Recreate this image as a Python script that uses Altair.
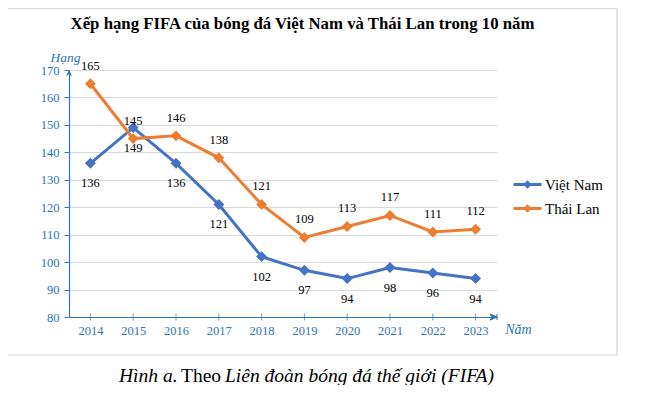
import altair as alt
import pandas as pd

years = [2014, 2015, 2016, 2017, 2018, 2019, 2020, 2021, 2022, 2023]
vietnam = [136, 149, 136, 121, 102, 97, 94, 98, 96, 94]
thailand = [165, 145, 146, 138, 121, 109, 113, 117, 111, 112]
series = ["Việt Nam", "Thái Lan"]
colors = ["#4472C4", "#ED7D31"]
y_ticks = [80, 90, 100, 110, 120, 130, 140, 150, 160, 170]

title_text = "Xếp hạng FIFA của bóng đá Việt Nam và Thái Lan trong 10 năm"
cap1, cap2, cap3 = "Hình a.", "Theo", "Liên đoàn bóng đá thế giới (FIFA)"

rows = []
for name, vals in zip(series, [vietnam, thailand]):
    for yr, v in zip(years, vals):
        rows.append({"year": yr, "country": name, "rank": v})
df = pd.DataFrame(rows)

BLUE = "#2E75B6"
SERIF = "Liberation Serif, Times New Roman, serif"
W, H = 428, 247

xs = alt.Scale(domain=[2013.5, 2023.5], nice=False, zero=False)
ys = alt.Scale(domain=[80, 170], nice=False, zero=False)
cs = alt.Scale(domain=series, range=colors)

x_axis = alt.Axis(
    values=years, format="d", ticks=False, grid=False, labelOverlap=False,
    labelFont=SERIF, labelFontSize=12.5, labelColor=BLUE, labelPadding=7,
    domainColor=BLUE, domainWidth=1.2,
    title="Năm", titleFont=SERIF, titleFontSize=14, titleFontStyle="italic",
    titleFontWeight="normal", titleColor=BLUE, titleX=449, titleY=16,
    titleAlign="center", titleBaseline="alphabetic")
y_axis = alt.Axis(
    values=y_ticks, tickCount=10, grid=True, gridColor="#D9D9D9", gridWidth=1,
    labelOverlap=False, labelBound=False, labelFlush=False,
    tickColor=BLUE, tickSize=5, labelPadding=5,
    labelFont=SERIF, labelFontSize=12.5, labelColor=BLUE,
    domainColor=BLUE, domainWidth=1.2,
    title="Hạng", titleFont=SERIF, titleFontSize=13.5, titleFontStyle="italic",
    titleFontWeight="normal", titleColor=BLUE, titleAngle=0, titleX=-4,
    titleY=-9, titleAlign="center", titleBaseline="alphabetic")

x_enc = alt.X("year:Q", scale=xs, axis=x_axis)
y_enc = alt.Y("rank:Q", scale=ys, axis=y_axis)

legend = alt.Legend(
    title=None, orient="none", legendX=443, legendY=99, padding=0,
    symbolType="M-1,0L1,0M-0.15,0L0,-0.15L0.15,0L0,0.15Z",
    symbolSize=784, symbolStrokeWidth=3, labelOffset=2, rowPadding=-4,
    labelFont=SERIF, labelFontSize=15, labelColor="black", labelBaseline="middle")

base = alt.Chart(df)
lines = base.mark_line(strokeWidth=3).encode(
    x=x_enc, y=y_enc, color=alt.Color("country:N", scale=cs, legend=legend))
points = base.mark_point(shape="diamond", filled=True, size=120, opacity=1).encode(
    x=x_enc, y=y_enc, color=alt.Color("country:N", scale=cs, legend=None))
lab_vn = base.transform_filter(alt.datum.country == series[0]).mark_text(
    font=SERIF, fontSize=12.5, color="black", dy=20).encode(
    x=x_enc, y=y_enc, text="rank:Q")
lab_th = base.transform_filter(alt.datum.country == series[1]).mark_text(
    font=SERIF, fontSize=12.5, color="black", dy=-18).encode(
    x=x_enc, y=y_enc, text="rank:Q")

tick_df = pd.DataFrame({"year": years})
xticks = alt.Chart(tick_df).mark_tick(orient="vertical", size=7, thickness=1, color=BLUE).encode(
    x=x_enc, y=alt.value(H))

one = alt.Data(values=[{"k": 0}])
arrow_x = alt.Chart(one).mark_point(
    shape="M0,0L-1,-0.45L-0.7,0L-1,0.45ZM0,-0.45L0,0.45", size=196, filled=True,
    color=BLUE, stroke=BLUE, strokeWidth=1, opacity=1).encode(x=alt.value(W), y=alt.value(H))
arrow_y = alt.Chart(one).mark_point(
    shape="M0,0L-0.5,1L0,0.7L0.5,1Z", size=144, filled=True,
    color=BLUE, opacity=1).encode(x=alt.value(0), y=alt.value(0))

title = alt.Chart(one).mark_text(text=title_text, font=SERIF, fontSize=16.8, fontWeight="bold",
    color="black", align="center", baseline="alphabetic").encode(x=alt.value(233.5), y=alt.value(-41))
c1 = alt.Chart(one).mark_text(text=cap1, font=SERIF, fontSize=19.5, fontStyle="italic",
    color="black", align="left", baseline="alphabetic").encode(x=alt.value(50), y=alt.value(312))
c2 = alt.Chart(one).mark_text(text=cap2, font=SERIF, fontSize=19.5,
    color="black", align="left", baseline="alphabetic").encode(x=alt.value(112), y=alt.value(312))
c3 = alt.Chart(one).mark_text(text=cap3, font=SERIF, fontSize=19.5, fontStyle="italic",
    color="black", align="left", baseline="alphabetic").encode(x=alt.value(156), y=alt.value(312))

border = alt.Chart(one).mark_rect(fill="transparent", stroke="#D9D9D9", strokeWidth=1.2).encode(
    x=alt.value(-66), x2=alt.value(548), y=alt.value(-61.5), y2=alt.value(285))

chart = alt.layer(border, lines, points, lab_vn, lab_th, xticks, arrow_x, arrow_y,
                  title, c1, c2, c3).properties(
    width=W, height=H,
    autosize=alt.AutoSizeParams(type="none"),
    padding={"left": 61, "top": 62, "right": 165, "bottom": 68},
).configure_view(stroke=None)

chart.save("out.html", embed_options={"renderer": "svg", "actions": False})
